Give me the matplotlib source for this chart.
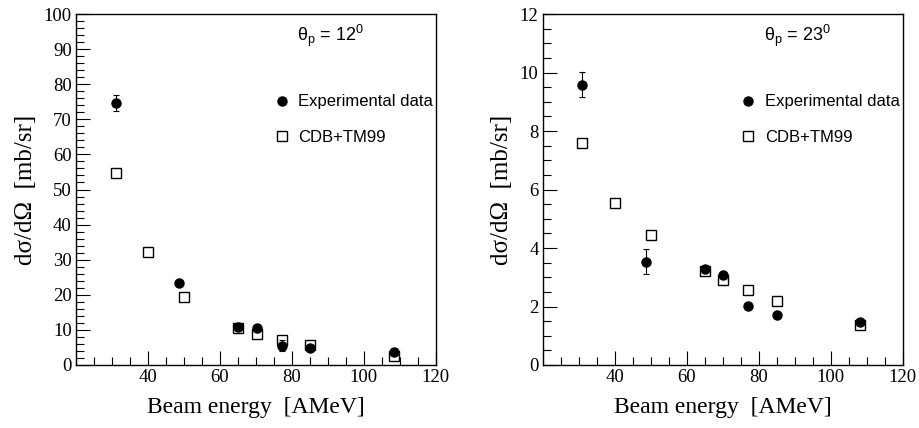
import matplotlib
matplotlib.use("Agg")
import matplotlib.pyplot as plt
from matplotlib.lines import Line2D
from matplotlib.ticker import MultipleLocator

plt.rcParams['mathtext.fontset'] = 'custom'
plt.rcParams['mathtext.rm'] = 'Liberation Sans'
plt.rcParams['mathtext.it'] = 'Liberation Sans:italic'

# theta_p = 12 deg
exp12_e = [31, 48.6, 65, 70.2, 77.2, 85, 108.3]
exp12_y = [74.7, 23.3, 10.9, 10.6, 5.5, 4.8, 3.6]
exp12_err = [2.2, 0.5, 1.0, 0.5, 1.5, 0.5, 0.4]
cdb12_e = [31, 40, 50, 65, 70.2, 77.2, 85, 108.3]
cdb12_y = [54.8, 32.3, 19.5, 10.4, 8.8, 7.2, 5.6, 2.6]

# theta_p = 23 deg
exp23_e = [31, 48.6, 65, 70.1, 77.1, 85, 108.1]
exp23_y = [9.59, 3.53, 3.29, 3.08, 2.01, 1.70, 1.46]
exp23_err = [0.42, 0.42, 0.05, 0.05, 0.05, 0.05, 0.05]
cdb23_e = [31, 40, 50, 65, 70, 77, 85, 108.1]
cdb23_y = [7.58, 5.54, 4.44, 3.23, 2.92, 2.55, 2.18, 1.37]

panels = [
    (exp12_e, exp12_y, exp12_err, cdb12_e, cdb12_y, 100, 10, 2, '12'),
    (exp23_e, exp23_y, exp23_err, cdb23_e, cdb23_y, 12, 2, 0.5, '23'),
]

fig = plt.figure(figsize=(9.2, 4.28), dpi=100)
lefts = [0.0826, 0.590]

serif = ['Liberation Serif', 'DejaVu Serif']
sans = ['Liberation Sans', 'DejaVu Sans']

for left, (ee, ey, eerr, ce, cy, ymax, ymaj, ymin, angle) in zip(lefts, panels):
    ax = fig.add_axes([left, 0.1472, 0.391, 0.820])
    ax.plot(ce, cy, 's', ms=7.5, mfc='white', mec='black', mew=1.0,
            linestyle='none', zorder=2)
    ax.errorbar(ee, ey, yerr=eerr, fmt='o', ms=6.5, color='black',
                ecolor='black', elinewidth=0.8, capsize=2, capthick=0.8,
                zorder=3)
    ax.set_xlim(20, 120)
    ax.set_ylim(0, ymax)
    ax.xaxis.set_major_locator(MultipleLocator(20))
    ax.xaxis.set_minor_locator(MultipleLocator(5))
    ax.yaxis.set_major_locator(MultipleLocator(ymaj))
    ax.yaxis.set_minor_locator(MultipleLocator(ymin))
    ax.tick_params(which='major', direction='in', length=10, width=0.8,
                   labelsize=13.5, pad=3)
    ax.tick_params(which='minor', direction='in', length=5.5, width=0.8)
    ax.tick_params(top=False, right=False)
    ax.set_xticks([40, 60, 80, 100, 120])
    for lab in ax.get_xticklabels() + ax.get_yticklabels():
        lab.set_family(serif)
    for sp in ax.spines.values():
        sp.set_linewidth(1.0)
    ax.set_xlabel('Beam energy  [AMeV]', family=serif, fontsize=17, labelpad=8)
    ax.set_ylabel('dσ/dΩ  [mb/sr]', family=serif, fontsize=18, labelpad=5)
    ax.text(0.615, 0.922, 'θ$_{\\mathrm{p}}$ = ' + angle + '$^{0}$',
            transform=ax.transAxes, family=sans, fontsize=13)
    handles = [
        Line2D([], [], marker='o', ms=6.5, color='black', linestyle='none'),
        Line2D([], [], marker='s', ms=7.5, mfc='white', mec='black',
               mew=1.0, linestyle='none'),
    ]
    ax.legend(handles, ['Experimental data', 'CDB+TM99'], loc='upper left',
              bbox_to_anchor=(0.53, 0.79), frameon=False,
              prop={'family': sans, 'size': 12}, handlelength=1.0,
              handletextpad=0.5, labelspacing=1.25, borderaxespad=0)

fig.savefig('out.png', dpi=100)
